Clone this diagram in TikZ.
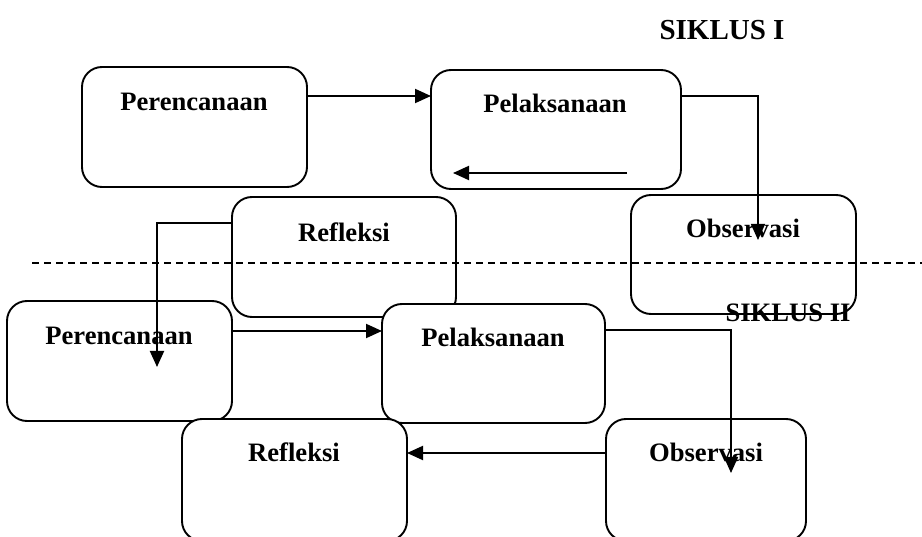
\documentclass[tikz,border=0pt]{standalone}
\usepackage{fontspec}
\setmainfont{Liberation Serif}
\usetikzlibrary{arrows.meta}
\begin{document}
\begin{tikzpicture}[x=1pt,y=-1pt,
  box/.style={draw=black,line width=1.9pt,fill=white,rounded corners=20pt,inner sep=0pt,outer sep=0pt},
  lbl/.style={inner sep=0pt,font=\fontsize{26.6}{30}\selectfont\bfseries},
  ttl/.style={inner sep=0pt,font=\fontsize{29}{32}\selectfont\bfseries},
  ttlb/.style={inner sep=0pt,font=\fontsize{26.6}{30}\selectfont\bfseries},
  arr/.style={line width=1.9pt,-{Triangle[length=16pt,width=14pt]}},
  sep/.style={line width=1.6pt,dash pattern=on 7pt off 5pt}]
\clip (0,0) rectangle (922,537);
\fill[white] (0,0) rectangle (922,537);
% boxes
\node[box,minimum width=225pt,minimum height=120pt] (per1) at (194.5,127) {};
\node[box,minimum width=250pt,minimum height=119pt] (pel1) at (556,129.5) {};
\node[box,minimum width=225pt,minimum height=119pt] (obs1) at (743.5,254.5) {};
\node[box,minimum width=224pt,minimum height=120pt] (ref1) at (344,257) {};
\node[box,minimum width=225pt,minimum height=120pt] (per2) at (119.5,361) {};
\node[box,minimum width=223pt,minimum height=119pt] (pel2) at (493.5,363.5) {};
\node[box,minimum width=200pt,minimum height=122pt] (obs2) at (706,480) {};
\node[box,minimum width=225pt,minimum height=122pt] (ref2) at (294.5,480) {};
% labels
\node[lbl] (tper1) at (194,102) {Perencanaan};
\node[lbl] (tpel1) at (555,103) {Pelaksanaan};
\node[lbl] (tobs1) at (743,228) {Observasi};
\node[lbl] (tref1) at (344,232) {Refleksi};
\node[lbl] (tper2) at (119,336) {Perencanaan};
\node[lbl] (tpel2) at (493,337) {Pelaksanaan};
\node[lbl] (tobs2) at (706,452) {Observasi};
\node[lbl] (tref2) at (294,452) {Refleksi};
\node[ttl] (s1) at (722,30) {SIKLUS I};
% separator
\coordinate (d1) at (32,263);
\coordinate (d2) at (922,263);
\draw[sep] (d1) -- (d2);
\node[ttlb] (s2) at (788,313) {SIKLUS II};
% connectors
\coordinate (a1) at ([yshift=-29pt]per1.north east);
\draw[arr] (a1) -- (a1 -| pel1.west);
\coordinate (i1) at (627,173);
\coordinate (i2) at (453,173);
\draw[arr] (i1) -- (i2);
\coordinate (a3) at ([yshift=-26pt]pel1.north east);
\coordinate (e3) at (758,240);
\draw[arr,line width=1.5pt] (a3) -| (e3);
\coordinate (a4) at ([yshift=-26pt]ref1.north west);
\coordinate (e4) at (157,367);
\draw[arr] (a4) -| (e4);
\coordinate (a5) at ([yshift=-30pt]per2.north east);
\draw[arr] (a5) -- (a5 -| pel2.west);
\coordinate (a6) at ([yshift=-26pt]pel2.north east);
\coordinate (e6) at (731,473);
\draw[arr,line width=1.5pt] (a6) -| (e6);
\coordinate (a7) at ([yshift=-34pt]obs2.north west);
\draw[arr] (a7) -- (a7 -| ref2.east);
\end{tikzpicture}
\end{document}
